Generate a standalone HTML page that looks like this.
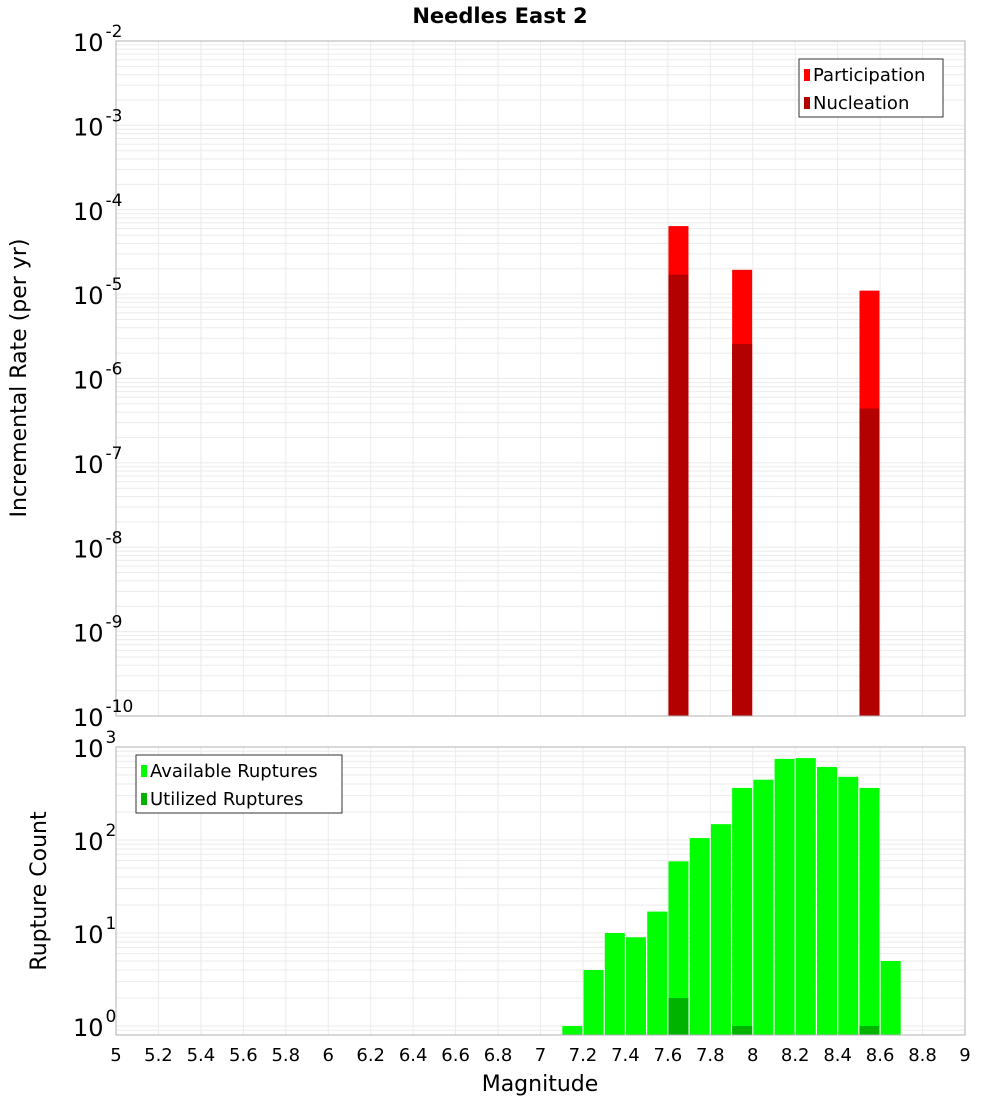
<!DOCTYPE html>
<html><head><meta charset="utf-8"><style>
body{margin:0;background:#fff}
svg{font-family:"DejaVu Sans","Liberation Sans",sans-serif}
</style></head><body>
<svg id="chart" width="1000" height="1100">
<text x="500" y="23" text-anchor="middle" font-size="21" font-weight="bold">Needles East 2</text>
<g id="topg"></g><g id="botg"></g>
<text x="540" y="1091" text-anchor="middle" font-size="22">Magnitude</text>
<text transform="translate(26,378) rotate(-90)" text-anchor="middle" font-size="22">Incremental Rate (per yr)</text>
<text transform="translate(46,891) rotate(-90)" text-anchor="middle" font-size="22">Rupture Count</text>
</svg>
<script>
const binCenters=[7.65,7.95,8.55];
const participation=[6.4e-5,1.94e-5,1.1e-5];
const nucleation=[1.7e-5,2.57e-6,4.4e-7];
const countCenters=[7.15,7.25,7.35,7.45,7.55,7.65,7.75,7.85,7.95,8.05,8.15,8.25,8.35,8.45,8.55,8.65];
const available=[1,4,10,9,17,59,105,148,363,445,745,760,610,478,363,5];
const utilCenters=[7.65,7.95,8.55];
const utilized=[2,1,1];
const xTicks=[5,5.2,5.4,5.6,5.8,6,6.2,6.4,6.6,6.8,7,7.2,7.4,7.6,7.8,8,8.2,8.4,8.6,8.8,9];
const topExps=[-2,-3,-4,-5,-6,-7,-8,-9,-10];
const botExps=[0,1,2,3];

const NS="http://www.w3.org/2000/svg";
const X0=116,X1=965;
const xs=m=>X0+(m-5)/4*(X1-X0);
const T0=41,T1=716;
const yt=v=>T0+(-2-Math.log10(v))*(T1-T0)/8;
const B0=747,B1=1035,DEC=93;
const yb=v=>1026-Math.log10(v)*DEC;
function mk(p,tag,a){const e=document.createElementNS(NS,tag);for(const k in a)e.setAttribute(k,a[k]);p.appendChild(e);return e;}
const gTop=document.getElementById('topg'),gBot=document.getElementById('botg');

function grid(g,y0,y1,logFn,lo,hi){
  for(let d=lo;d<hi;d++)for(let k=1;k<10;k++){const y=logFn(k*Math.pow(10,d));if(y<y0-0.5||y>y1+0.5)continue;
    const l=mk(g,'line',{x1:X0,x2:X1,y1:y,y2:y,stroke:'#ebebeb','stroke-width':1});
    
    }
  xTicks.forEach(t=>{const x=xs(t);const l=mk(g,'line',{x1:x,x2:x,y1:y0,y2:y1,stroke:'#ebebeb','stroke-width':1});
    
    });
}
grid(gTop,T0,T1,yt,-10,-1);
grid(gBot,B0,B1,yb,-1,4);

binCenters.forEach((c,i)=>{
  const x=xs(c)-10;
  const r=mk(gTop,'rect',{x:x,y:yt(participation[i]),width:20,height:T1-yt(participation[i]),fill:'#ff0000'});
  
  
  const n=mk(gTop,'rect',{x:x,y:yt(nucleation[i]),width:20,height:T1-yt(nucleation[i]),fill:'#b30000'});
  
  
});
countCenters.forEach((c,i)=>{
  const x=xs(c)-10;const y=yb(available[i]);
  const r=mk(gBot,'rect',{x:x,y:y,width:20,height:B1-y,fill:'#00ff00'});
  
  
});
utilCenters.forEach((c,i)=>{
  const x=xs(c)-10;const y=yb(utilized[i]);
  const r=mk(gBot,'rect',{x:x,y:y,width:20,height:B1-y,fill:'#00b300'});
  
  
});
[[gTop,T0,T1],[gBot,B0,B1]].forEach(([g,a,b])=>{const f=mk(g,'rect',{x:X0,y:a,width:X1-X0,height:b-a,fill:'none',stroke:'#b0b0b0'});
  
  });
function ylab(g,y,e){const t=mk(g,'text',{x:73,y:y+10,'font-size':24});
  
  
  t.textContent='10';const s=mk(t,'tspan',{dy:-14,'font-size':17,dx:2});s.textContent=String(e);}
topExps.forEach(e=>ylab(gTop,yt(Math.pow(10,e)),e));
botExps.forEach(e=>ylab(gBot,yb(Math.pow(10,e)),e));
xTicks.forEach(t=>{const e=mk(gBot,'text',{x:xs(t),y:1061,'text-anchor':'middle','font-size':18});
  
  
  e.textContent=String(t);});
function legend(g,x,y,w,items){const b=mk(g,'rect',{x:x,y:y,width:w,height:58,fill:'#fff',stroke:'#333'});
  
  
  items.forEach((it,i)=>{const s=mk(g,'rect',{x:x+5,y:y+10+i*28,width:6,height:12,fill:it[1]});
    
    
    const t=mk(g,'text',{x:x+14,y:y+22+i*28,'font-size':18});
    
    
    t.textContent=it[0];});}
legend(gTop,799,59,144,[['Participation','#ff0000'],['Nucleation','#b30000']]);
legend(gBot,136,755,206,[['Available Ruptures','#00ff00'],['Utilized Ruptures','#00b300']]);
</script>
</body></html>
